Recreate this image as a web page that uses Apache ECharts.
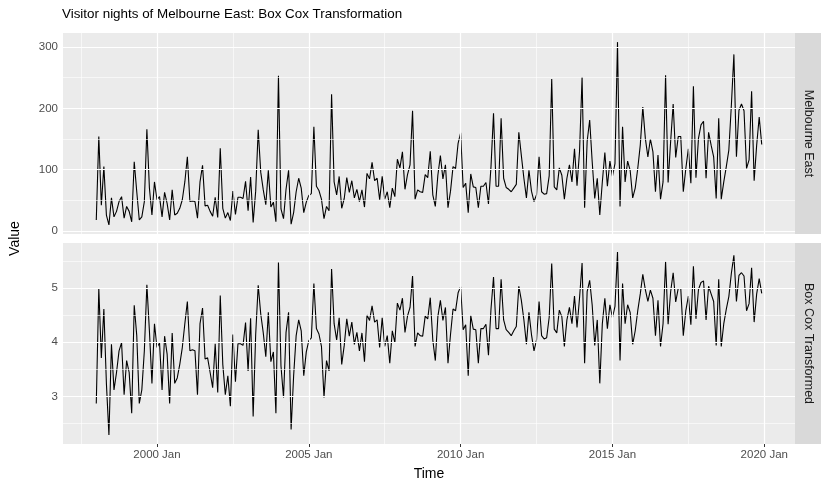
<!DOCTYPE html>
<html><head><meta charset="utf-8">
<script src="https://cdn.jsdelivr.net/npm/echarts@6/dist/echarts.min.js"></script>
<style>html,body{margin:0;padding:0;background:#fff}#c{width:821px;height:484px}</style>
</head><body><div id="c"></div>
<script>
const titleText = 'Visitor nights of Melbourne East: Box Cox Transformation';
const panelNames = ['Melbourne East', 'Box Cox Transformed'];
const xTitle = 'Time';
const yTitle = 'Value';
// monthly series starting 1998 Jan (index 0)
const visitorNights = [
18,154,42,105,26,10,54,23,32,48,56,21,
40,32,15,113,64,18,23,48,166,70,26,80,
51,56,23,63,45,18,67,26,29,37,51,80,
121,48,49,48,21,80,107,41,42,32,24,55,
22,135,37,21,30,17,65,27,55,55,53,81,
33,88,14,65,165,96,67,43,99,39,47,15,
253,36,20,68,99,11,30,64,86,70,30,47,
58,61,170,73,66,52,20,40,33,223,80,59,
89,37,53,87,63,82,54,68,48,67,39,94,
85,112,82,86,51,89,52,64,38,70,56,117,
103,129,68,92,108,196,52,67,64,63,92,87,
130,59,40,91,123,85,108,38,65,105,102,143,
160,71,78,30,93,72,71,38,73,73,79,44,
105,192,73,73,184,86,71,68,64,70,76,161,
123,86,54,99,65,48,59,121,64,60,61,90,
248,72,67,103,91,52,86,108,80,134,74,130,
251,38,146,181,113,53,86,26,80,128,73,114,
89,110,308,40,170,80,114,99,54,70,102,140,
202,151,121,150,129,64,124,52,80,254,79,146,
207,120,154,154,64,102,134,78,236,87,151,173,
179,86,161,140,121,53,184,52,80,105,132,205,
288,121,197,207,196,102,116,228,82,140,186,141
];
const boxCoxValues = [
2.87,4.99,3.71,4.61,3.24,2.29,3.96,3.12,3.44,3.84,3.99,3.03,
3.66,3.44,2.69,4.68,4.12,2.87,3.12,3.84,5.06,4.21,3.24,4.34,
3.90,3.99,3.12,4.11,3.78,2.87,4.17,3.24,3.34,3.59,3.90,4.34,
4.75,3.84,3.86,3.84,3.03,4.34,4.63,3.69,3.71,3.44,3.16,3.97,
3.07,4.86,3.59,3.03,3.38,2.82,4.14,3.27,3.97,3.97,3.94,4.36,
3.47,4.44,2.63,4.14,5.05,4.52,4.17,3.73,4.55,3.64,3.82,2.69,
5.47,3.56,2.98,4.18,4.55,2.39,3.38,4.12,4.41,4.21,3.38,3.82,
4.03,4.08,5.08,4.25,4.15,3.92,2.98,3.66,3.47,5.35,4.34,4.04,
4.45,3.59,3.94,4.43,4.11,4.37,3.96,4.18,3.84,4.17,3.64,4.50,
4.40,4.67,4.37,4.41,3.90,4.45,3.92,4.12,3.61,4.21,3.99,4.72,
4.59,4.81,4.18,4.48,4.64,5.22,3.92,4.17,4.12,4.11,4.48,4.43,
4.82,4.04,3.66,4.47,4.77,4.40,4.64,3.61,4.14,4.61,4.58,4.91,
5.02,4.23,4.32,3.38,4.49,4.24,4.23,3.61,4.25,4.25,4.33,3.76,
4.61,5.20,4.25,4.25,5.16,4.41,4.23,4.18,4.12,4.21,4.29,5.03,
4.77,4.41,3.96,4.55,4.14,3.84,4.04,4.75,4.12,4.06,4.08,4.46,
5.45,4.24,4.17,4.59,4.47,3.92,4.41,4.64,4.34,4.85,4.27,4.82,
5.46,3.61,4.93,5.14,4.68,3.94,4.41,3.24,4.34,4.81,4.25,4.69,
4.45,4.66,5.66,3.66,5.08,4.34,4.69,4.55,3.96,4.21,4.58,4.89,
5.25,4.97,4.75,4.96,4.81,4.12,4.77,3.92,4.34,5.48,4.33,4.93,
5.28,4.74,4.99,4.99,4.12,4.58,4.85,4.32,5.40,4.43,4.97,5.10,
5.13,4.41,5.03,4.89,4.75,3.94,5.16,3.92,4.34,4.61,4.84,5.27,
5.60,4.75,5.23,5.28,5.22,4.58,4.71,5.37,4.37,4.89,5.17,4.90
];
// x axis: months since 1998 Jan
const xTickMonths = [24, 84, 144, 204, 264];
const xTickLabels = ['2000 Jan', '2005 Jan', '2010 Jan', '2015 Jan', '2020 Jan'];
const xMinorMonths = [-6, 54, 114, 174, 234];
const topTicks = [0, 100, 200, 300];
const topMinor = [50, 150, 250];
const bottomTicks = [3, 4, 5];
const bottomMinor = [2.5, 3.5, 4.5, 5.5];

const FONT = '"Liberation Sans", Arial, Helvetica, sans-serif';
const chart = echarts.init(document.getElementById('c'), null, {renderer: 'canvas'});

const P = {left: 63, width: 732, top1: 33, top2: 243, h: 201};
const xRange = {min: -13.15, max: 276.15};
const yRanges = [{min: -4.9, max: 322.9}, {min: 2.1215, max: 5.8285}];
const seriesValues = [visitorNights, boxCoxValues];
const yTicks = [topTicks, bottomTicks];
const yMinor = [topMinor, bottomMinor];

function gridLines(idx) {
  const major = {color: '#FFFFFF', width: 1.2, type: 'solid'};
  const minor = {color: '#FFFFFF', width: 0.6, type: 'solid'};
  const d = [];
  xMinorMonths.forEach(v => d.push({xAxis: v, lineStyle: minor}));
  yMinor[idx].forEach(v => d.push({yAxis: v, lineStyle: minor}));
  xTickMonths.forEach(v => d.push({xAxis: v, lineStyle: major}));
  yTicks[idx].forEach(v => d.push({yAxis: v, lineStyle: major}));
  return {
    type: 'line', xAxisIndex: idx, yAxisIndex: idx, data: [], z: 1, silent: true,
    markLine: {symbol: ['none', 'none'], silent: true, animation: false,
      label: {show: false}, emphasis: {disabled: true}, data: d}
  };
}

const option = {
  animation: false,
  backgroundColor: '#FFFFFF',
  title: {text: titleText, left: 62, top: 8, padding: 0,
    textStyle: {fontFamily: FONT, fontSize: 13.4, fontWeight: 'normal', color: '#000000'}},
  grid: [
    {left: P.left, top: P.top1, width: P.width, height: P.h, show: true, backgroundColor: '#EBEBEB', borderWidth: 0},
    {left: P.left, top: P.top2, width: P.width, height: P.h, show: true, backgroundColor: '#EBEBEB', borderWidth: 0}
  ],
  xAxis: [0, 1].map(i => ({
    type: 'value', gridIndex: i, min: xRange.min, max: xRange.max,
    axisLine: {show: false}, splitLine: {show: false},
    axisTick: {show: i === 1, customValues: xTickMonths, length: 3, lineStyle: {color: '#333333', width: 1}},
    axisLabel: {show: i === 1, customValues: xTickMonths, margin: 5,
      fontFamily: FONT, fontSize: 11.5, color: '#4D4D4D',
      formatter: v => { const k = xTickMonths.indexOf(v); return k >= 0 ? xTickLabels[k] : ''; }}
  })),
  yAxis: [0, 1].map(i => ({
    type: 'value', gridIndex: i, min: yRanges[i].min, max: yRanges[i].max,
    axisLine: {show: false}, splitLine: {show: false},
    axisTick: {show: true, customValues: yTicks[i], length: 3, lineStyle: {color: '#333333', width: 1}},
    axisLabel: {customValues: yTicks[i], margin: 5, fontFamily: FONT, fontSize: 11.5, color: '#4D4D4D',
      formatter: v => String(v)}
  })),
  graphic: [
    {type: 'rect', shape: {x: 795, y: P.top1, width: 26, height: P.h}, style: {fill: '#D9D9D9'}, silent: true},
    {type: 'rect', shape: {x: 795, y: P.top2, width: 26, height: P.h}, style: {fill: '#D9D9D9'}, silent: true},
    {type: 'text', x: 808, y: P.top1 + P.h / 2, rotation: -Math.PI / 2,
      style: {text: panelNames[0], fontFamily: FONT, fontSize: 12.5, fill: '#1A1A1A', align: 'center', verticalAlign: 'middle'}},
    {type: 'text', x: 808, y: P.top2 + P.h / 2, rotation: -Math.PI / 2,
      style: {text: panelNames[1], fontFamily: FONT, fontSize: 12.5, fill: '#1A1A1A', align: 'center', verticalAlign: 'middle'}},
    {type: 'text', x: 15, y: (P.top1 + P.top2 + P.h) / 2, rotation: Math.PI / 2,
      style: {text: yTitle, fontFamily: FONT, fontSize: 14, fill: '#000000', align: 'center', verticalAlign: 'middle'}},
    {type: 'text', x: P.left + P.width / 2, y: 474,
      style: {text: xTitle, fontFamily: FONT, fontSize: 14, fill: '#000000', align: 'center', verticalAlign: 'middle'}}
  ],
  series: [
    gridLines(0), gridLines(1),
    ...[0, 1].map(i => ({
      type: 'line', xAxisIndex: i, yAxisIndex: i, z: 3,
      data: seriesValues[i].map((v, m) => [m, v]),
      symbol: 'none', silent: true,
      lineStyle: {color: '#000000', width: 1.1}
    }))
  ]
};
chart.setOption(option);
</script>
</body></html>
